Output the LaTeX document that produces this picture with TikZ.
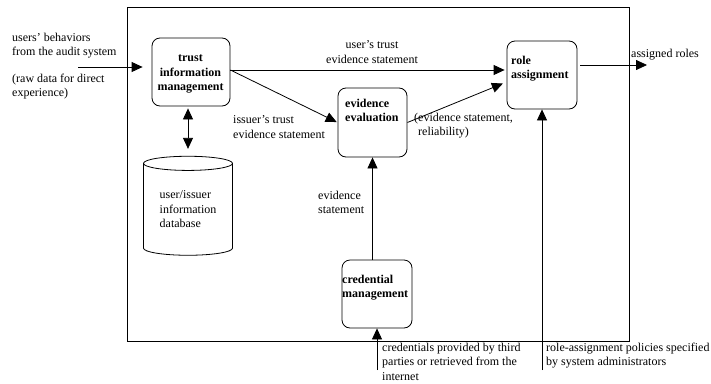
\documentclass[tikz,border=0pt]{standalone}
\usepackage{fontspec}
\setmainfont{Liberation Serif}
\usetikzlibrary{shapes.geometric, arrows.meta, positioning}

\begin{document}
\begin{tikzpicture}[
    x=1pt, y=-1pt,
    font=\fontsize{12}{14.5}\selectfont,
    frame/.style={rectangle, draw, line width=0.8pt, minimum width=502pt, minimum height=334pt},
    module/.style={rectangle, rounded corners=8pt, draw, line width=0.8pt, minimum width=70pt, minimum height=68pt, inner sep=0pt},
    modtext/.style={font=\fontsize{12}{14.5}\selectfont\bfseries, align=left, inner sep=0pt, anchor=north west},
    txt/.style={align=left, inner sep=0pt, anchor=north west},
    store/.style={cylinder, shape border rotate=90, aspect=0.25, draw, line width=0.8pt, minimum width=89pt, minimum height=99pt, align=left, inner sep=0pt},
    arrow/.style={-{Triangle[length=11pt,width=10pt]}, line width=0.8pt},
    dblarrow/.style={{Triangle[length=11pt,width=10pt]}-{Triangle[length=11pt,width=10pt]}, line width=0.8pt}
]
\useasboundingbox (0,0) rectangle (711,383);

\node[frame] (system) at (378,174) {};

\node[module, minimum width=78pt] (trust) at (191,72) {};
\node[module, minimum width=69pt, minimum height=69pt] (evid) at (372.5,122.5) {};
\node[module] (role) at (542,75) {};
\node[module] (cred) at (377,294) {};
\node[store] (db) at (188,209.5) {user/issuer\\information\\database};

\node[modtext, anchor=north, align=center] (trusttxt) at (190.5,55) {trust\\information\\management};
\node[modtext] (evidtxt) at (345,98.5) {evidence\\evaluation};
\node[modtext] (roletxt) at (511,55.5) {role\\assignment};
\node[modtext] (credtxt) at (342,274.5) {credential\\management};

\node[txt] (usersin1) at (12,32.5) {users' behaviors\\from the audit system};
\node[txt] (usersin2) at (12,73.5) {(raw data for direct\\experience)};
\node[txt, anchor=north, align=center] (usertrust) at (372,40.5) {user's trust\\evidence statement};
\node[txt] (issuertrust) at (233,115.5) {issuer's trust\\evidence statement};
\node[txt] (reliab) at (414,112.5) {(evidence statement,\\\hspace*{4pt}reliability)};
\node[txt] (evstmt) at (318,190.5) {evidence\\statement};
\node[txt] (assigned) at (631,48.5) {assigned roles};
\node[txt] (credsrc) at (382,342.5) {credentials provided by third\\parties or retrieved from the\\internet};
\node[txt] (policies) at (546,342.5) {role-assignment policies specified\\by system administrators};

\coordinate (usersin) at (78,67);
\coordinate (rolesout) at (647,65);
\coordinate (polin) at (542,370);
\coordinate (credin) at (377,370);

\draw[arrow, shorten >=9pt] (usersin) -- (usersin -| trust.west);
\draw[arrow, shorten >=2pt] ([yshift=2pt]trust.east) -- ([yshift=2pt]trust.east -| role.west);
\draw[arrow, shorten >=1pt] ([yshift=2pt]trust.east) -- (evid.west);
\draw[arrow, shorten >=4pt] (evid.east) -- ([yshift=-7pt]role.west);
\draw[arrow, shorten <=3pt] (role.east |- rolesout) -- (rolesout);
\draw[dblarrow, shorten <=2pt, shorten >=7pt] (db.north |- trust.south) -- (db.north);
\draw[arrow] (evid.south |- cred.north) -- (evid.south);
\draw[arrow] (polin) -- (role.south);
\draw[arrow] (credin) -- (cred.south);

\end{tikzpicture}
\end{document}
